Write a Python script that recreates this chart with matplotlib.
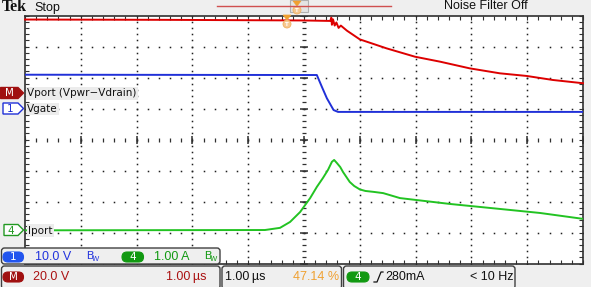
import numpy as np
import matplotlib
matplotlib.use('Agg')
from matplotlib import pyplot as plt
from matplotlib.patches import FancyBboxPatch, Polygon, Ellipse, Rectangle

# time in us, 1.00 us/div, trigger in the centre
vport_t = [-5.0, -2.5, 0.0, 0.47, 0.49, 0.50, 0.52, 0.55, 0.58, 0.62, 0.66,
           0.77, 1.00, 1.48, 1.99, 2.44, 2.97, 3.51, 3.99, 4.46, 5.0]
vport_v = [47.4, 47.2, 46.8, 46.5, 48.6, 44.0, 47.5, 43.5, 45.5, 42.0, 43.5,
           40.2, 34.6, 28.8, 23.4, 20.2, 15.9, 12.7, 11.0, 8.4, 6.3]

vgate_t = [-5.0, 0.23, 0.32, 0.41, 0.53, 0.61, 5.0]
vgate_v = [11.1, 11.0, 7.2, 3.5, -0.3, -0.9, -0.9]

iport_t = [-5.0, -0.70, -0.43, -0.25, -0.07, 0.11, 0.23, 0.34, 0.43, 0.50,
           0.54, 0.59, 0.65, 0.70, 0.76, 0.82, 0.90, 1.00, 1.10, 1.25, 1.42,
           1.72, 2.62, 3.51, 4.23, 5.0]
iport_a = [0.02, 0.03, 0.10, 0.29, 0.61, 1.06, 1.42, 1.71, 1.97, 2.23,
           2.29, 2.19, 2.06, 1.90, 1.74, 1.58, 1.45, 1.34, 1.29, 1.26, 1.22,
           1.06, 0.87, 0.71, 0.58, 0.39]

# channel settings (per div) and reference levels (div)
vport_scale, vport_ref = 20.0, 1.5
vgate_scale, vgate_ref = 10.0, 0.98
iport_scale, iport_ref = 1.0, -2.95

RED = '#dd0000'
BLUE = '#2030d8'
GREEN = '#22c322'
ORANGE = '#f0a030'
BG = '#efefef'
NARROW = ['Liberation Sans Narrow', 'Liberation Sans', 'DejaVu Sans']

fig = plt.figure(figsize=(5.91, 2.87), dpi=100, facecolor=BG)
W, H = 591, 287
ax = fig.add_axes([25 / W, 23.5 / H, 558 / W, 248 / H])
ax.set_facecolor('white')
ax.set_xlim(-5, 5)
ax.set_ylim(-4, 4)
for s in ax.spines.values():
    s.set_color('#303030')
    s.set_linewidth(1.2)
ax.set_xticks(np.arange(-5, 5.01, 0.2))
ax.set_yticks(np.arange(-4, 4.01, 0.2))
ax.tick_params(direction='in', length=3, width=0.8, color='#303030',
               top=True, right=True, labelbottom=False, labelleft=False)

# graticule dots
fine_x = np.arange(-5, 5.01, 0.2)
fine_y = np.arange(-4, 4.01, 0.2)
for gx in range(-4, 5):
    if gx != 0:
        ax.plot(np.full_like(fine_y, gx), fine_y, ls='none', marker='s',
                ms=1.1, color='#202020', mew=0)
for gy in range(-3, 4):
    if gy != 0:
        ax.plot(fine_x, np.full_like(fine_x, gy), ls='none', marker='s',
                ms=1.1, color='#202020', mew=0)
ax.plot(np.zeros_like(fine_y), fine_y, ls='none', marker='_', ms=3.5,
        mew=0.9, color='#303030')
ax.plot([0] * 9, range(-4, 5), ls='none', marker='_', ms=6, mew=1.1,
        color='#303030')
ax.plot(fine_x, np.zeros_like(fine_x), ls='none', marker='|', ms=3.5,
        mew=0.9, color='#303030')
ax.plot(range(-5, 6), [0] * 11, ls='none', marker='|', ms=6, mew=1.1,
        color='#303030')

# traces
ax.plot(vport_t, vport_ref + np.array(vport_v) / vport_scale, color=RED,
        lw=1.4, clip_on=False, zorder=3)
ax.plot(vgate_t, vgate_ref + np.array(vgate_v) / vgate_scale, color=BLUE,
        lw=1.4, zorder=3)
ax.plot(iport_t, iport_ref + np.array(iport_a) / iport_scale, color=GREEN,
        lw=1.4, zorder=3)

# overlay in pixel coordinates for the scope annotations
ov = fig.add_axes([0, 0, 1, 1], zorder=5)
ov.set_xlim(0, W)
ov.set_ylim(H, 0)
ov.axis('off')

ov.text(2, 7, 'Tek', family='Liberation Serif', weight='bold', fontsize=11.5,
        va='center', ha='left', color='#111111')
ov.text(34, 7.5, 'Stop', family=NARROW, fontsize=9, va='center', ha='left',
        color='#111111')
ov.text(486, 6, 'Noise Filter Off', family=NARROW, fontsize=9, va='center',
        ha='center', color='#111111')
ov.plot([217, 391], [5.7, 5.7], color='#d05050', lw=1)
ov.add_patch(Rectangle((290, 0), 18, 12, fc='#e4e4e4', ec='#b0b0b0', lw=0.8))


def trig_marker(x, y):
    ov.add_patch(Polygon([(x - 4, y), (x + 4, y), (x, y + 5)], closed=True,
                         fc=ORANGE, ec=ORANGE, lw=0.5))
    ov.add_patch(Ellipse((x, y + 9), 8, 8, fc='#f6c890', ec='#f0b060', lw=0.6))
    ov.text(x, y + 9, 'T', fontsize=4, color='white', ha='center',
            va='center', weight='bold')


trig_marker(297, 1)
trig_marker(287, 15)


def ch_marker(y, label, fc, ec, tc, x0=1):
    pts = [(x0, y - 5.5), (18, y - 5.5), (23.5, y), (18, y + 5.5),
           (x0, y + 5.5)]
    ov.add_patch(Polygon(pts, closed=True, fc=fc, ec=ec, lw=1.0))
    ov.text((x0 + 18) / 2, y + 0.5, label, family='DejaVu Sans', fontsize=7.5,
            color=tc, ha='center', va='center')


ch_marker(93, 'M', '#a01010', '#a01010', 'white', x0=0.5)
ch_marker(108.5, '1', 'white', BLUE, BLUE, x0=3)
ch_marker(230, '4', 'white', '#229922', '#229922', x0=4)

lab_box = dict(boxstyle='square,pad=0.12', fc='#ececec', ec='none')
ov.text(27, 93.5, 'Vport (Vpwr\u2212Vdrain)', family='DejaVu Sans',
        fontsize=7.5, va='center', ha='left', color='#111111', bbox=lab_box)
ov.text(27, 109, 'Vgate', family='DejaVu Sans', fontsize=7.5, va='center',
        ha='left', color='#111111', bbox=lab_box)
ov.text(28, 230.5, 'Iport', family='DejaVu Sans', fontsize=7.5, va='center',
        ha='left', color='#111111', bbox=lab_box)


def info_box(x0, y0, x1, y1):
    ov.add_patch(FancyBboxPatch((x0, y0), x1 - x0, y1 - y0,
                                boxstyle='round,pad=0,rounding_size=3',
                                fc=BG, ec='#404040', lw=1.0))


def pill(x0, x1, yc, label, fc):
    ov.add_patch(FancyBboxPatch((x0, yc - 5), x1 - x0, 10,
                                boxstyle='round,pad=0,rounding_size=5',
                                fc=fc, ec=fc, lw=0.8))
    ov.text((x0 + x1) / 2, yc + 0.5, label, family='DejaVu Sans',
            fontsize=7.5, color='white', ha='center', va='center')


def bw(x, yc, color):
    ov.text(x, yc - 1, 'B', family=NARROW, fontsize=8, color=color,
            ha='left', va='center')
    ov.text(x + 6, yc + 2.5, 'W', family=NARROW, fontsize=5.5, color=color,
            ha='left', va='center')


info_box(1.5, 248, 220, 264)
info_box(1.5, 266, 220, 289)
info_box(222, 266, 341.5, 289)
info_box(343.5, 266, 515, 289)

row1, row2 = 257, 277
pill(3, 23.5, row1, '1', '#2255ee')
ov.text(35, row1, '10.0 V', family=NARROW, fontsize=9, color='#2233dd',
        ha='left', va='center')
bw(86, row1, '#2233dd')
pill(122, 143.5, row1, '4', '#119911')
ov.text(154, row1, '1.00 A', family=NARROW, fontsize=9, color='#119911',
        ha='left', va='center')
bw(204, row1, '#119911')

pill(3, 23.5, row2, 'M', '#a01010')
ov.text(33, row2, '20.0 V', family=NARROW, fontsize=9, color='#aa1111',
        ha='left', va='center')
ov.text(206, row2, '1.00\u2009\u00b5s', family=NARROW, fontsize=9,
        color='#aa1111', ha='right', va='center')
ov.text(225, row2, '1.00\u2009\u00b5s', family=NARROW, fontsize=9,
        color='#111111', ha='left', va='center')
ov.text(339, row2, '47.14 %', family=NARROW, fontsize=9, color=ORANGE,
        ha='right', va='center')
pill(347, 369, row2, '4', '#119911')
ov.plot([374, 377, 381, 383], [282, 282, 272, 272], color='#111111', lw=0.9)
ov.text(385, row2, '280mA', family=NARROW, fontsize=9, color='#111111',
        ha='left', va='center')
ov.text(513, row2, '< 10 Hz', family=NARROW, fontsize=9, color='#111111',
        ha='right', va='center')

fig.savefig('out.png', dpi=100, facecolor=BG)
